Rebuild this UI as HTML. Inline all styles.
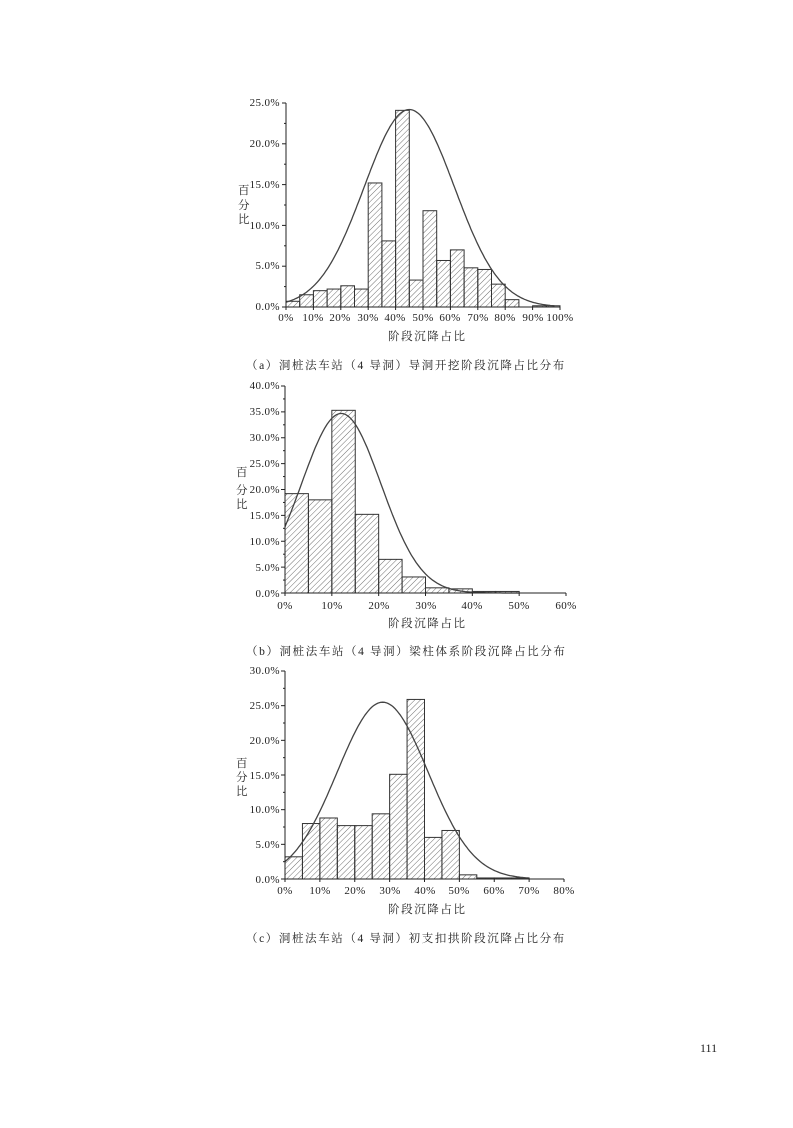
<!DOCTYPE html>
<html><head><meta charset="utf-8"><style>
body{margin:0;background:#fff}
svg text{font-family:"Liberation Serif","Noto Serif CJK SC",serif;fill:#222}
.t{font-size:11px;letter-spacing:0.4px}
.c{font-family:"Liberation Serif","Noto Sans CJK SC",sans-serif;font-size:11.5px;letter-spacing:1.6px}
</style></head><body>
<svg id="s" width="793" height="1123" xmlns="http://www.w3.org/2000/svg">
<defs><pattern id="h" width="4" height="4" patternUnits="userSpaceOnUse" patternTransform="rotate(45)"><line x1="0" y1="0" x2="0" y2="4" stroke="#333" stroke-width="0.7"/></pattern></defs>
<g id="g"></g>
<!-- chart a -->
<g class="t" text-anchor="end">
<text x="280" y="310">0.0%</text><text x="280" y="269">5.0%</text><text x="280" y="229">10.0%</text><text x="280" y="188">15.0%</text><text x="280" y="147">20.0%</text><text x="280" y="106">25.0%</text>
</g>
<g class="t" text-anchor="middle">
<text x="286" y="321">0%</text><text x="313" y="321">10%</text><text x="340" y="321">20%</text><text x="368" y="321">30%</text><text x="395" y="321">40%</text><text x="423" y="321">50%</text><text x="450" y="321">60%</text><text x="478" y="321">70%</text><text x="505" y="321">80%</text><text x="533" y="321">90%</text><text x="560" y="321">100%</text>
</g>
<g class="c"><text x="238" y="194">百</text><text x="238" y="209">分</text><text x="238" y="223">比</text>
<text x="388" y="340">阶段沉降占比</text>
<text x="246" y="369">（a）洞桩法车站（4 导洞）导洞开挖阶段沉降占比分布</text></g>
<!-- chart b -->
<g class="t" text-anchor="end">
<text x="280" y="597">0.0%</text><text x="280" y="571">5.0%</text><text x="280" y="545">10.0%</text><text x="280" y="519">15.0%</text><text x="280" y="493">20.0%</text><text x="280" y="467">25.0%</text><text x="280" y="441">30.0%</text><text x="280" y="415">35.0%</text><text x="280" y="389">40.0%</text>
</g>
<g class="t" text-anchor="middle">
<text x="285" y="609">0%</text><text x="332" y="609">10%</text><text x="379" y="609">20%</text><text x="426" y="609">30%</text><text x="472" y="609">40%</text><text x="519" y="609">50%</text><text x="566" y="609">60%</text>
</g>
<g class="c"><text x="236" y="476">百</text><text x="236" y="494">分</text><text x="236" y="508">比</text>
<text x="388" y="627">阶段沉降占比</text>
<text x="246" y="655">（b）洞桩法车站（4 导洞）梁柱体系阶段沉降占比分布</text></g>
<!-- chart c -->
<g class="t" text-anchor="end">
<text x="280" y="883">0.0%</text><text x="280" y="848">5.0%</text><text x="280" y="813">10.0%</text><text x="280" y="779">15.0%</text><text x="280" y="744">20.0%</text><text x="280" y="709">25.0%</text><text x="280" y="674">30.0%</text>
</g>
<g class="t" text-anchor="middle">
<text x="285" y="894">0%</text><text x="320" y="894">10%</text><text x="355" y="894">20%</text><text x="390" y="894">30%</text><text x="425" y="894">40%</text><text x="459" y="894">50%</text><text x="494" y="894">60%</text><text x="529" y="894">70%</text><text x="564" y="894">80%</text>
</g>
<g class="c"><text x="236" y="767">百</text><text x="236" y="781">分</text><text x="236" y="795">比</text>
<text x="388" y="913">阶段沉降占比</text>
<text x="246" y="942">（c）洞桩法车站（4 导洞）初支扣拱阶段沉降占比分布</text></g>
<text x="700" y="1052" style="font-size:12px">111</text>
</svg>
<script>
var g=document.getElementById('g'),NS='http://www.w3.org/2000/svg';
function el(t,a){var e=document.createElementNS(NS,t);for(var k in a)e.setAttribute(k,a[k]);g.appendChild(e);return e;}
function chart(x0,x1,xmax,xstep,y0,y1,ymax,bars,mu,sd,pk,xend){
 var sx=function(v){return x0+(x1-x0)*v/xmax},sy=function(v){return y0-(y0-y1)*v/ymax};
 bars.forEach(function(b,i){if(b<=0)return;var h=Math.max(y0-sy(b),1);
  el('rect',{x:sx(i*5),y:y0-h,width:sx(5)-x0,height:h,fill:'url(#h)',stroke:'#333','stroke-width':1});});
 var p='';for(var v=0;v<=xend;v+=0.5){p+=(v?'L':'M')+sx(v).toFixed(1)+' '+sy(pk*Math.exp(-(v-mu)*(v-mu)/(2*sd*sd))).toFixed(1);}
 el('path',{d:p,fill:'none',stroke:'#444','stroke-width':1.3});
 el('line',{x1:x0,y1:y1,x2:x0,y2:y0,stroke:'#222','stroke-width':1});
 el('line',{x1:x0,y1:y0,x2:x1,y2:y0,stroke:'#222','stroke-width':1});
 for(var v=0;v<=ymax+1e-9;v+=2.5){var m=Math.round(v*10)%50==0;el('line',{x1:x0-(m?4:2),y1:sy(v),x2:x0,y2:sy(v),stroke:'#222','stroke-width':1});}
 for(var v=0;v<=xmax+1e-9;v+=xstep){el('line',{x1:sx(v),y1:y0,x2:sx(v),y2:y0+3,stroke:'#222','stroke-width':1});}
}
chart(286,560,100,10,307,103,25,[0.7,1.5,2.0,2.2,2.6,2.2,15.2,8.1,24.1,3.3,11.8,5.7,7.0,4.8,4.6,2.8,0.9,0,0.15,0.15],45,16.5,24.2,98);
chart(285,566,60,10,593,386,40,[19.2,18.0,35.3,15.2,6.5,3.1,1.0,0.8,0.3,0.3],12,8.5,34.7,50);
chart(285,564,80,10,879,671,30,[3.2,8.0,8.8,7.7,7.7,9.4,15.1,25.9,6.0,7.0,0.6,0.15,0.15,0.15],28,13,25.5,70);
</script>
</body></html>
